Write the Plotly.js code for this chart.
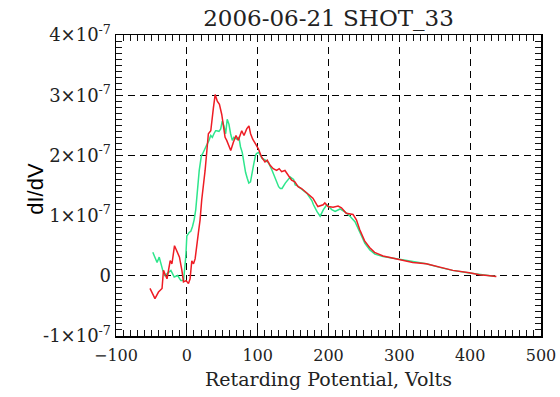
<!DOCTYPE html>
<html>
<head>
<meta charset="utf-8">
<script src="https://cdn.plot.ly/plotly-3.0.1.min.js"></script>
<style>html,body{margin:0;padding:0;background:#fff;}#chart{width:560px;height:397px;}</style>
</head>
<body>
<div id="chart"></div>
<script>
// dI/dV values are given in units of 1e-7 (the axis labels carry the ×10^-7)
const redX = [-52,-45,-40,-35,-33,-28,-23.5,-21,-17.4,-14,-10.4,-7,-4.7,-1,2.3,4.6,7,9.4,11.7,16.4,18.7,21,25.8,30.4,33.8,37.5,40,43,46,49.3,51.6,54,56.3,60,62,65.7,69.4,72.7,77.5,80.7,84.5,87.7,90,93,97.6,101,105.6,110.3,113.5,117.3,122,126.7,130.4,133.8,138.5,143,147.9,152.5,157,162,166.6,173.7,178,185,192.4,194.8,199.4,206.5,213.5,218.3,225,234.6,239.4,244,251,258,265,277,295.8,319,338,356.8,375.5,399,413,424.7,437];
const redY = [-0.21,-0.38,-0.27,-0.21,0.09,-0.05,0.25,0.20,0.50,0.39,0.31,0.09,-0.10,-0.08,-0.13,-0.05,0.25,0.20,0.28,0.72,0.93,1.26,1.75,2.36,2.41,2.79,3.01,2.90,2.85,2.68,2.52,2.30,2.25,2.14,2.08,2.22,2.33,2.25,2.41,2.33,2.44,2.49,2.36,2.27,2.19,2.11,1.97,1.89,1.92,1.84,1.78,1.75,1.78,1.73,1.75,1.67,1.59,1.56,1.48,1.45,1.40,1.32,1.29,1.15,1.18,1.21,1.15,1.14,1.16,1.13,1.04,1.02,0.93,0.77,0.58,0.47,0.39,0.33,0.28,0.22,0.20,0.14,0.09,0.05,0.016,0.005,-0.01];

const greenX = [-48,-45,-42,-39,-36.5,-34,-31,-27,-22.5,-17.8,-13,-8.4,-4.6,-1.4,0,3.3,5.6,8,10.3,12.6,15,17.5,20.6,22,26.7,29,31.3,33.7,36,38.3,40.7,42,45.4,47.8,50,52.4,54.8,57,59.4,61.8,64.2,66.4,70.2,73.5,75.8,78.2,80.5,82.9,85.3,87.5,89.9,92.3,94.5,97,98.3,101.5,106.3,111,115.6,120.4,125,129.6,132,134.4,139,143.7,146,150.7,153,155.5,162.5,169.5,176.5,178.8,183.6,188.2,192.8,197.6,204.6,209.3,216.3,225.7,230.3,237.4,244.4,251.4,258.4,265.5,277,296,319,338,357,375,399,413,425,436];
const greenY = [0.39,0.31,0.22,0.31,0.17,0.09,0.005,0.05,0.09,-0.02,0.005,-0.08,-0.08,0.33,0.66,0.72,0.74,0.82,0.93,1.10,1.45,1.75,2.0,2.02,2.14,2.19,2.25,2.33,2.30,2.36,2.41,2.41,2.40,2.44,2.57,2.49,2.36,2.60,2.52,2.36,2.25,2.30,2.27,2.30,2.14,2.05,1.86,1.72,1.62,1.54,1.56,1.75,1.86,2.0,2.03,2.05,1.95,1.92,1.87,1.75,1.62,1.48,1.45,1.45,1.54,1.62,1.64,1.60,1.51,1.50,1.44,1.37,1.25,1.18,1.07,0.99,1.10,1.18,1.10,1.07,1.11,1.04,0.99,0.90,0.72,0.54,0.43,0.36,0.32,0.28,0.23,0.20,0.14,0.09,0.045,0.02,0.005,-0.01];

// y tick labels: default label text -> shown text
const yTickKeys = ['\u22121','-1','0','1','2','3','4'];
const yTickText = ['-1×10<sup>-7</sup>','-1×10<sup>-7</sup>','0','1×10<sup>-7</sup>','2×10<sup>-7</sup>','3×10<sup>-7</sup>','4×10<sup>-7</sup>'];
const yAlias = {};
yTickKeys.forEach((k, i) => { yAlias[k] = yTickText[i]; });

const serif = 'DejaVu Serif, Liberation Serif, serif';

const traces = [
  {x: greenX, y: greenY, type:'scatter', mode:'lines', line:{color:'#2ee68c', width:1.5}, showlegend:false},
  {x: redX, y: redY, type:'scatter', mode:'lines', line:{color:'#ee1c24', width:1.5}, showlegend:false}
];

const layout = {
  width:560, height:397,
  margin:{l:116, r:19, t:35, b:61},
  paper_bgcolor:'#fff', plot_bgcolor:'#fff',
  title:{text:'2006-06-21 SHOT_33', font:{family:serif, size:23, color:'#222'}, x:0.5, xref:'paper', y:0.955, yref:'container', yanchor:'middle'},
  xaxis:{
    range:[-100,500], dtick:100, tick0:0,
    showline:true, linecolor:'#000', linewidth:1.5, mirror:'allticks',
    ticks:'inside', ticklen:6, tickwidth:1, tickcolor:'#111',
    showgrid:true, gridcolor:'#000', gridwidth:1.3, griddash:'7px,5px', zeroline:false,
    minor:{dtick:10, ticks:'inside', ticklen:6, tickwidth:1, tickcolor:'#111'},
    tickfont:{family:serif, size:16, color:'#222'}, ticklabelstandoff:4,
    title:{text:'Retarding Potential, Volts', font:{family:serif, size:19, color:'#222'}, standoff:9}
  },
  yaxis:{
    range:[-1,4], dtick:1, tick0:0, labelalias:yAlias,
    showline:true, linecolor:'#000', linewidth:1.5, mirror:'allticks',
    ticks:'inside', ticklen:6, tickwidth:1, tickcolor:'#111',
    showgrid:true, gridcolor:'#000', gridwidth:1.3, griddash:'7px,5px', zeroline:false,
    minor:{dtick:0.1, ticks:'inside', ticklen:6, tickwidth:1, tickcolor:'#111'},
    tickfont:{family:serif, size:18, color:'#222'}
  },
  annotations:[
    {text:'dI/dV', xref:'paper', yref:'paper', x:-0.19, y:0.49, xanchor:'center', yanchor:'middle', textangle:-90, showarrow:false, font:{family:'Liberation Sans, Arial, sans-serif', size:22, color:'#000'}}
  ]
};

Plotly.newPlot('chart', traces, layout, {staticPlot:true, displayModeBar:false});
</script>
</body>
</html>
